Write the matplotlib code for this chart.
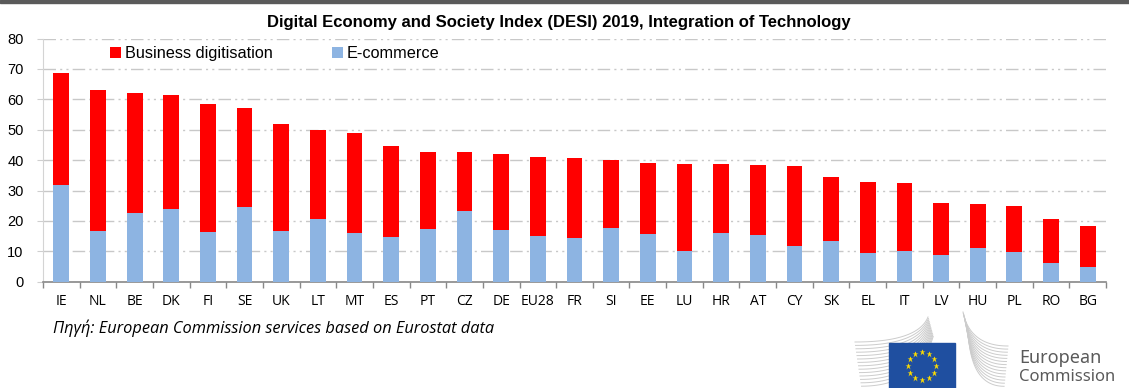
import numpy as np
import matplotlib
matplotlib.use("Agg")
import matplotlib.pyplot as plt
from matplotlib.patches import Rectangle

countries = ["IE", "NL", "BE", "DK", "FI", "SE", "UK", "LT", "MT", "ES",
             "PT", "CZ", "DE", "EU28", "FR", "SI", "EE", "LU", "HR", "AT",
             "CY", "SK", "EL", "IT", "LV", "HU", "PL", "RO", "BG"]
# overall score (top of bar) and the e-commerce part of it
totals = [68.8, 63.0, 62.1, 61.3, 58.3, 57.2, 52.0, 49.8, 48.9, 44.6,
          42.8, 42.6, 42.0, 41.0, 40.6, 40.1, 39.1, 38.8, 38.6, 38.3,
          38.1, 34.4, 32.9, 32.4, 25.9, 25.6, 24.9, 20.6, 18.3]
ecommerce = [31.8, 16.8, 22.7, 23.9, 16.2, 24.5, 16.8, 20.5, 16.0, 14.8,
             17.3, 23.3, 17.1, 15.1, 14.5, 17.6, 15.6, 10.2, 16.0, 15.5,
             11.6, 13.4, 9.4, 10.2, 8.8, 11.1, 9.8, 6.2, 4.9]
business = [t - e for t, e in zip(totals, ecommerce)]

RED = "#ff0000"
BLUE = "#8db4e2"
W, H = 1129, 388

fig = plt.figure(figsize=(W / 100, H / 100), dpi=100)
ax = fig.add_axes([43 / W, 1 - 281.7 / H, (1106 - 43) / W, (281.7 - 38.5) / H])

x = np.arange(len(countries))
ax.bar(x, ecommerce, width=0.43, color=BLUE, label="E-commerce", zorder=3)
ax.bar(x, business, width=0.43, bottom=ecommerce, color=RED,
       label="Business digitisation", zorder=3)

ax.set_xlim(-0.5, len(countries) - 0.5)
ax.set_ylim(0, 80)
ax.set_yticks(range(0, 81, 10))
ax.set_yticklabels([str(v) for v in range(0, 81, 10)],
                   fontfamily="Liberation Sans", fontsize=10.5)
ax.yaxis.grid(True, color="#c8c8c8", lw=1.0,
              linestyle=(0, (9, 3, 1.5, 3, 1.5, 3)), zorder=0)
ax.set_axisbelow(True)

# category labels centred, tick marks between categories
ax.set_xticks(x)
ax.set_xticklabels(countries, fontfamily="Open Sans", fontsize=10)
ax.set_xticks(np.arange(-0.5, len(countries), 1), minor=True)
ax.tick_params(axis="x", which="major", length=0, pad=9)
ax.tick_params(axis="x", which="minor", length=4, color="#888888", width=1, direction="out")
ax.tick_params(axis="y", length=4, color="#cfcfcf", pad=10)

for side in ["top", "right"]:
    ax.spines[side].set_visible(False)
ax.spines["bottom"].set_color("#888888")
ax.spines["bottom"].set_linewidth(1.2)
ax.spines["left"].set_color("#d4d4d4")

handles, labels = ax.get_legend_handles_labels()
ax.legend(handles[::-1], labels[::-1], loc="upper left", ncol=2,
          bbox_to_anchor=(110 / W, 1 - 46 / H), bbox_transform=fig.transFigure,
          frameon=False, handlelength=0.7, handleheight=0.7, handletextpad=0.25,
          columnspacing=3.6, borderaxespad=0, borderpad=0,
          prop={"family": "Liberation Sans", "size": 11.7})

fig.text(559 / W, 1 - 22 / H,
         "Digital Economy and Society Index (DESI) 2019, Integration of Technology",
         ha="center", va="center", fontfamily="Liberation Sans",
         fontweight="bold", fontsize=12)
fig.text(53 / W, 1 - 328 / H,
         "Πηγή: European Commission services based on Eurostat data",
         ha="left", va="center", fontfamily="Open Sans", fontstyle="italic",
         fontsize=11.8)

# page decoration drawn in pixel coordinates
deco = fig.add_axes([0, 0, 1, 1], zorder=-1)
deco.set_xlim(0, W)
deco.set_ylim(H, 0)
deco.axis("off")
deco.add_patch(Rectangle((0, 0), W, 3, color="#5a5a5a"))

# Commission logo: fanned lines, flag and name
t = np.linspace(0, 1, 30)
for i in range(14):
    y0 = 342 + i * 3.4
    p0 = np.array([855 + i * 0.5, y0])
    p1 = np.array([918, y0])
    p2 = np.array([928 + i * 0.4, 317 + i * 1.5])
    pts = ((1 - t) ** 2)[:, None] * p0 + (2 * (1 - t) * t)[:, None] * p1 + (t ** 2)[:, None] * p2
    deco.plot(pts[:, 0], pts[:, 1], color="#cccccc", lw=0.7)
for i in range(14):
    y0 = 346 + i * 3.1
    p0 = np.array([963 + i * 0.4, 312 + i * 1.4])
    p1 = np.array([970, y0])
    p2 = np.array([1008 - i * 0.3, y0])
    pts = ((1 - t) ** 2)[:, None] * p0 + (2 * (1 - t) * t)[:, None] * p1 + (t ** 2)[:, None] * p2
    deco.plot(pts[:, 0], pts[:, 1], color="#cccccc", lw=0.7)

deco.add_patch(Rectangle((889, 343), 66, 50, color="#1f4fa0", zorder=3))
ang = np.linspace(0, 2 * np.pi, 12, endpoint=False)
deco.plot(922 + 14 * np.cos(ang), 366 + 14 * np.sin(ang), ls="none",
          marker="*", ms=4.5, color="#ffdd00", mec="none", zorder=4)

deco.text(1019, 358, "European", ha="left", va="center",
          fontfamily="Noto Sans", fontsize=13, color="#5a5a5a")
deco.text(1019, 377, "Commission", ha="left", va="center",
          fontfamily="Noto Sans", fontsize=12, color="#5a5a5a")

fig.savefig("out.png", dpi=100)
